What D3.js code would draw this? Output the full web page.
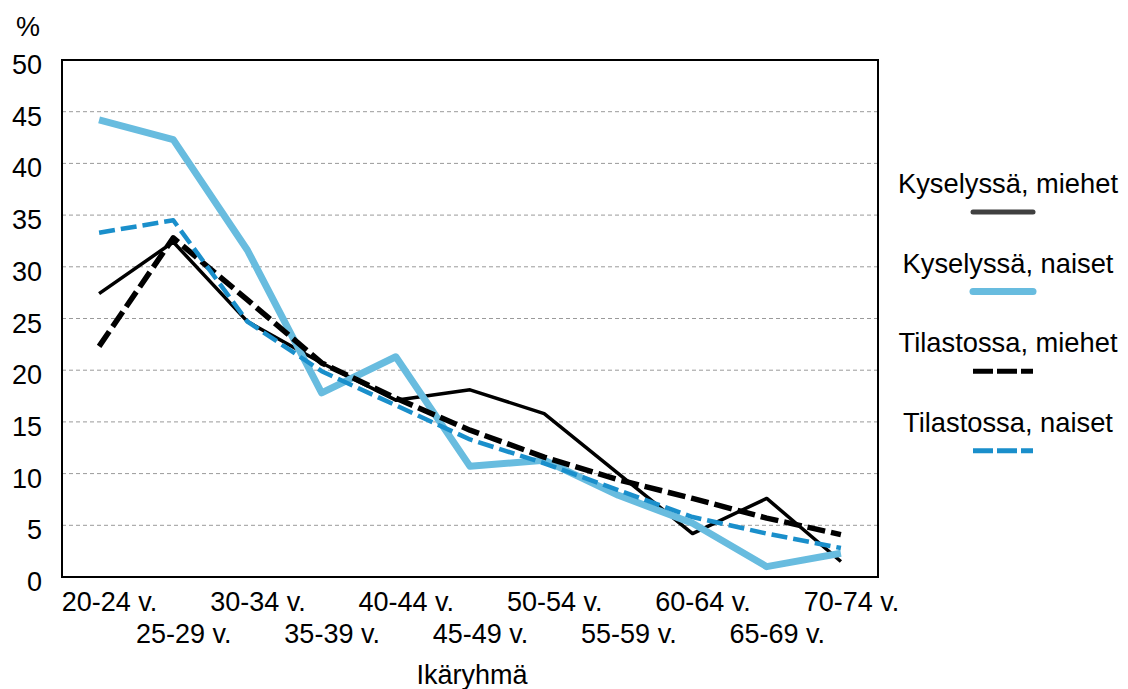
<!DOCTYPE html>
<html>
<head>
<meta charset="utf-8">
<script src="https://cdn.jsdelivr.net/npm/d3@7"></script>
<style>
  body { margin: 0; background: #fff; }
  svg { display: block; font-family: "Liberation Sans", Arial, sans-serif; }
  .axis text { font-size: 27px; fill: #000; }
  .axis path, .axis line { display: none; }
  .grid line { stroke: #9a9a9a; stroke-width: 1; stroke-dasharray: 4,3; }
</style>
</head>
<body>
<div class="chart-container"></div>
<script>
// Data
var ageGroups = ["20-24 v.", "25-29 v.", "30-34 v.", "35-39 v.", "40-44 v.", "45-49 v.",
                 "50-54 v.", "55-59 v.", "60-64 v.", "65-69 v.", "70-74 v."];
var kyselyMiehet   = [27.4, 32.4, 24.7, 20.7, 17.1, 18.1, 15.8, 10.0, 4.2, 7.6, 1.5];
var kyselyNaiset   = [44.2, 42.3, 31.6, 17.8, 21.3, 10.7, 11.3, 7.9, 5.2, 1.0, 2.3];
var tilastoMiehet  = [22.3, 32.8, 26.8, 20.7, 17.3, 14.2, 11.6, 9.4, 7.6, 5.7, 4.1];
var tilastoNaiset  = [33.3, 34.5, 24.7, 19.9, 16.6, 13.3, 11.0, 8.4, 5.8, 4.2, 2.8];
var seriesNames = ["Kyselyssä, miehet", "Kyselyssä, naiset", "Tilastossa, miehet", "Tilastossa, naiset"];
var yTicks = [0, 5, 10, 15, 20, 25, 30, 35, 40, 45, 50];

var series = [
    { name: seriesNames[0], values: kyselyMiehet,  color: "#000000", legendColor: "#404040", width: 3.5, dash: null },
    { name: seriesNames[1], values: kyselyNaiset,  color: "#68bcdf", legendColor: "#68bcdf", width: 7, dash: null },
    { name: seriesNames[2], values: tilastoMiehet, color: "#000000", legendColor: "#000000", width: 5.5, dash: "18,6" },
    { name: seriesNames[3], values: tilastoNaiset, color: "#1a8fcb", legendColor: "#1a8fcb", width: 4.5, dash: "16,6" }
];

var W = 1128, H = 689;
var plot = { left: 62, right: 878, top: 60, bottom: 577 };

var svg = d3.select(".chart-container").append("svg")
    .attr("width", W)
    .attr("height", H);

// Scales
var x = d3.scalePoint()
    .domain(ageGroups)
    .range([plot.left, plot.right])
    .padding(0.5);
var y = d3.scaleLinear()
    .domain([0, 50])
    .range([plot.bottom, plot.top]);

// Gridlines
svg.append("g")
    .attr("class", "grid")
    .selectAll("line")
    .data(yTicks.filter(function(d) { return d > 0 && d < 50; }))
    .enter().append("line")
    .attr("x1", plot.left)
    .attr("x2", plot.right)
    .attr("y1", function(d) { return y(d); })
    .attr("y2", function(d) { return y(d); });

// Y axis
var yAxis = svg.append("g")
    .attr("class", "axis")
    .attr("transform", "translate(" + (plot.left - 20) + ",0)")
    .call(d3.axisLeft(y).tickValues(yTicks).tickSize(0).tickPadding(0));
yAxis.selectAll("text").attr("dy", "0.5em");

svg.append("text")
    .attr("x", 28)
    .attr("y", 36)
    .attr("text-anchor", "middle")
    .style("font-size", "27px")
    .text("%");

// X axis with staggered labels
var xAxis = svg.append("g")
    .attr("class", "axis")
    .attr("transform", "translate(10," + plot.bottom + ")")
    .call(d3.axisBottom(x).tickSize(0).tickPadding(0));
xAxis.selectAll("text")
    .attr("dy", null)
    .attr("y", function(d, i) { return i % 2 === 0 ? 34 : 66; });

svg.append("text")
    .attr("x", 472)
    .attr("y", 684)
    .attr("text-anchor", "middle")
    .style("font-size", "27px")
    .text("Ikäryhmä");

// Lines
var line = d3.line()
    .x(function(d, i) { return x(ageGroups[i]); })
    .y(function(d) { return y(d); });

svg.selectAll(".series")
    .data(series)
    .enter().append("path")
    .attr("class", "series")
    .attr("fill", "none")
    .attr("stroke", function(d) { return d.color; })
    .attr("stroke-width", function(d) { return d.width; })
    .attr("stroke-dasharray", function(d) { return d.dash; })
    .attr("stroke-linejoin", "round")
    .attr("d", function(d) { return line(d.values); });

// Plot frame
svg.append("rect")
    .attr("x", plot.left)
    .attr("y", plot.top)
    .attr("width", plot.right - plot.left)
    .attr("height", plot.bottom - plot.top)
    .attr("fill", "none")
    .attr("stroke", "#000")
    .attr("stroke-width", 2);

// Legend
var legend = svg.selectAll(".legend")
    .data(series)
    .enter().append("g")
    .attr("class", "legend")
    .attr("transform", function(d, i) { return "translate(0," + (i * 79.6) + ")"; });

legend.append("text")
    .attr("x", 1008)
    .attr("y", 193)
    .attr("text-anchor", "middle")
    .style("font-size", "27.3px")
    .text(function(d) { return d.name; });

legend.append("line")
    .attr("x1", 973)
    .attr("x2", 1033)
    .attr("y1", 212)
    .attr("y2", 212)
    .attr("stroke", function(d) { return d.legendColor; })
    .attr("stroke-width", function(d) { return d.dash ? 5 : (d.width > 5 ? 7 : 5); })
    .attr("stroke-linecap", function(d) { return d.dash ? "butt" : "round"; })
    .attr("stroke-dasharray", function(d) { return d.dash ? "20,4" : null; });
</script>
</body>
</html>
